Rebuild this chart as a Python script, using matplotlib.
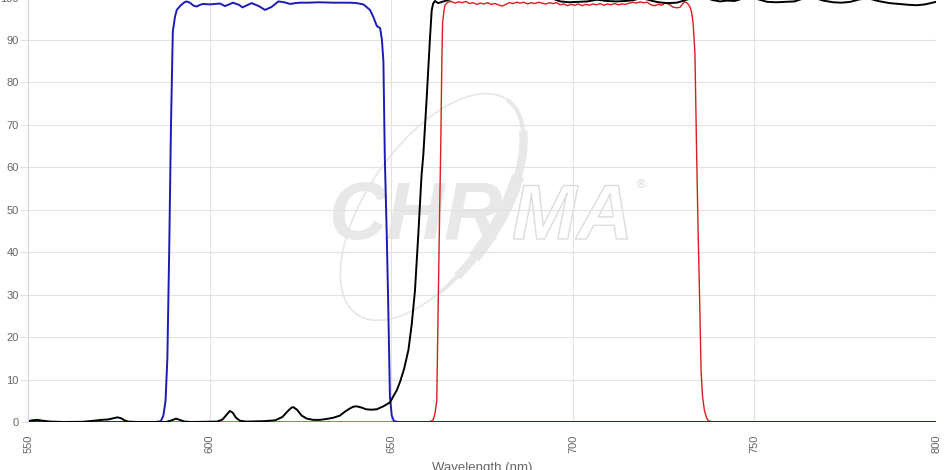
import numpy as np
import matplotlib
matplotlib.use("Agg")
import matplotlib.pyplot as plt
from matplotlib.patches import Ellipse, Arc
from matplotlib.transforms import IdentityTransform
import matplotlib.patheffects as pe

# transmission curves (wavelength nm, %T)
wl_blue = [550, 560, 570, 580, 585, 586.5, 587.2, 587.8, 588.3, 588.8, 589.3, 589.8,
           590.4, 590.9, 592.0, 593.0, 593.6, 594.5, 595.5, 596.4, 597.3, 598.1, 600,
           602.8, 604.2, 606.4, 608.0, 609.0, 610.5, 611.5, 613.5, 615.2, 617.0, 618.9,
           620.5, 622.1, 623.5, 624.8, 627, 630, 634, 638.6, 640.4, 642.3, 644.1, 645.0,
           646.0, 646.9, 647.4, 647.8, 648.2, 648.7, 649.1, 649.6, 650.1, 650.7, 652,
           700, 800]
T_blue = [0, 0, 0, 0, 0, 0.2, 1.5, 5, 15, 40, 70, 92,
          95.5, 97.1, 98.2, 98.9, 99.1, 98.8, 98.1, 97.9, 98.3, 98.5, 98.4,
          98.6, 98.0, 98.8, 98.3, 97.7, 98.3, 98.7, 98.0, 97.1, 97.8, 99.1,
          98.9, 98.5, 98.7, 98.8, 98.8, 98.9, 98.8, 98.8, 98.7, 98.4, 97.1, 95.5,
          93.3, 92.8, 90, 85, 62, 45, 29, 6, 1.5, 0.2, 0,
          0, 0]

wl_red = [550, 600, 650, 660, 661, 661.5, 662, 662.5, 662.9, 663.3, 663.6, 663.9, 664.1,
          664.5, 664.8, 665.5, 666.5, 667.5, 668.5, 669.5, 670.5, 671.5, 672.5, 673.5,
          674.5, 675.5, 676.5, 677.5, 678.5, 679.5, 680.5, 681.5, 682.5, 683.5, 684.5,
          685.5, 686.5, 687.5, 688.5, 689.5, 690.5, 691.5, 692.5, 693.5, 694.5, 695.5,
          696.5, 697.5, 698.5, 699.5, 700.5, 701.5, 702.5, 703.5, 704.5, 705.5, 706.5,
          707.5, 708.5, 709.5, 710.5, 711.5, 712.5, 713.5, 714.5, 715.5, 716.5, 717.5,
          718.5, 719.5, 720.5, 721.5, 722.5, 723.5, 724.5, 725.5, 726.5, 727.5, 728.5,
          729.5, 730.3, 730.8, 731.5, 732.2, 732.7, 733.1, 733.6, 734.1, 734.5, 734.9,
          735.3, 735.7, 736.2, 736.8, 737.3, 738.5, 800]
T_red = [0, 0, 0, 0, 0.2, 0.5, 2, 5, 28, 50, 65, 85, 94,
         97, 98.3, 98.9, 99.1, 98.7, 99.0, 98.8, 99.1, 98.6, 98.8, 98.4,
         98.7, 98.5, 98.8, 98.4, 98.6, 98.3, 98.0, 98.4, 98.8, 98.6, 98.9,
         98.7, 98.9, 98.5, 98.8, 98.6, 98.9, 98.7, 98.5, 98.8, 98.6, 98.8,
         98.3, 98.5, 98.1, 98.4, 98.2, 98.5, 98.1, 98.4, 98.2, 98.5, 98.3,
         98.6, 98.2, 98.5, 98.3, 98.6, 98.3, 98.5, 98.4, 98.7, 98.9, 98.7,
         99.0, 98.8, 98.9, 98.3, 98.1, 98.4, 98.2, 98.8, 98.4, 97.8, 97.6,
         97.7, 98.6, 99.0, 98.7, 97.9, 96.5, 94, 87, 62, 44, 29,
         12, 6, 2.8, 1.0, 0.3, 0, 0]

wl_black = [550, 551, 552.5, 554, 556, 560, 565, 568, 570, 572, 573.5, 574.5, 575.5, 576.5,
            577.5, 580, 588, 589.5, 590.7, 591.7, 593, 595, 602, 603.5, 604.7, 605.5,
            606.3, 607.2, 608.3, 610, 615, 618, 620, 621.5, 622.5, 623, 624, 625.3, 626.7,
            628.5, 630.3, 632, 634, 635.8, 637.3, 638.6, 639.5, 640.4, 641.8, 643, 644.5,
            646, 647.8, 649, 649.6, 650.5, 651.5, 652.4, 653.5, 654.7, 655.6, 656.5, 657.4,
            658.3, 658.8, 659.7, 660.2, 660.6, 661.1, 661.5, 662, 662.9, 664, 665.2, 667,
            670, 673, 676, 679, 682, 685, 688, 691, 694, 696.5, 699, 701.5, 704, 706.5,
            709.4, 712, 714.5, 716.6, 719, 721.5, 723.5, 726, 728.6, 731, 733.5, 736,
            738.6, 740.5, 742.5, 744.5, 746.5, 749, 751, 753.5, 756, 758.5, 761, 763.5,
            766, 768.9, 771.7, 774, 776.4, 779, 781.5, 784, 787.2, 790, 792.5, 794.7, 797,
            798.5, 800]
T_black = [0.2, 0.4, 0.5, 0.3, 0.1, 0, 0.05, 0.3, 0.5, 0.6, 0.9, 1.1, 0.9, 0.4,
           0.1, 0, 0, 0.4, 0.8, 0.5, 0.1, 0, 0.1, 0.6, 1.8, 2.6,
           2.2, 1.0, 0.3, 0.1, 0.2, 0.4, 1.2, 2.6, 3.4, 3.5, 2.9, 1.5, 0.8,
           0.5, 0.5, 0.7, 1.0, 1.5, 2.5, 3.2, 3.6, 3.7, 3.4, 3.0, 2.9,
           3.0, 3.7, 4.3, 4.6, 6.0, 7.5, 9.5, 12.5, 17, 23, 31, 44,
           58, 63, 76, 84, 90, 97.0, 98.6, 99.2, 98.7, 99.0, 99.3, 99.8,
           100.3, 100.4, 100.2, 100.4, 100.3, 100.4, 100.2, 100.3, 99.9, 99.1, 98.9, 99.0, 99.1, 99.5,
           99.2, 99.1, 99.2, 99.4, 99.9, 99.3, 98.9, 98.7, 98.8, 99.4, 100.2, 100.1,
           99.4, 99.1, 99.3, 99.2, 99.7, 100.2, 99.6, 99.0, 98.9, 99.0, 99.1, 99.8,
           100.1, 99.3, 98.9, 98.8, 99.0, 99.6, 99.8, 99.2, 98.7, 98.5, 98.3, 98.2, 98.4,
           98.7, 99.0]

x_ticks = [550, 600, 650, 700, 750, 800]
y_ticks = list(range(0, 101, 10))

fig = plt.figure(figsize=(9.51, 4.70), dpi=100)
ax = fig.add_axes([28.3/951, 48/470, (936-28.3)/951, 424.4/470])

# watermark (display pixel coords, y up)
wm = "#e8e8e8"
ax.add_patch(Ellipse((432, 263), 262, 128, angle=55, fill=False, ec=wm, lw=1.3,
                     transform=IdentityTransform(), zorder=0.1))
for lw, t1, t2 in [(3, -140, 0), (6, -125, -15), (9, -105, -35)]:
    ax.add_patch(Arc((432, 263), 262, 128, angle=55, theta1=t1, theta2=t2, ec=wm, lw=lw,
                     transform=IdentityTransform(), zorder=0.1))
wm_font = ["Liberation Sans Narrow", "Liberation Sans", "DejaVu Sans"]
ax.text(328, 231, "CHR", transform=IdentityTransform(), fontsize=58, family=wm_font,
        weight="bold", style="italic", color=wm, va="baseline", ha="left", zorder=0.1)
ax.text(512, 231, "MA", transform=IdentityTransform(), fontsize=56, family=wm_font,
        weight="bold", style="italic", color="none", va="baseline", ha="left", zorder=0.1,
        path_effects=[pe.withStroke(linewidth=1, foreground="#dcdcdc")])
ax.text(640, 285, "®", transform=IdentityTransform(), fontsize=9, color="#dcdcdc",
        va="center", ha="center", zorder=0.1)

ax.plot(wl_red, T_red, color="#d81e1e", lw=1.0, zorder=2)
ax.plot(wl_blue, T_blue, color="#1c1cb4", lw=1.4, zorder=2.1)
ax.plot(wl_black, T_black, color="black", lw=1.4, zorder=2.2)

ax.set_xlim(550, 800)
ax.set_ylim(0, 100)
ax.set_xticks(x_ticks)
ax.set_yticks(y_ticks)
ax.set_xticklabels([str(v) for v in x_ticks], rotation=90, family="Liberation Sans",
                   fontsize=8, color="#666666")
ax.set_yticklabels([str(v) for v in y_ticks], family="Liberation Sans",
                   fontsize=8, color="#666666")
ax.tick_params(axis="y", length=6, width=0.8, color="#e2e2e2", pad=1)
ax.tick_params(axis="x", length=0, pad=9)
ax.set_axisbelow(True)
ax.grid(True, color="#e2e2e2", lw=0.8)
for s in ["top", "right", "bottom"]:
    ax.spines[s].set_visible(False)
ax.spines["left"].set_color("#d6d6d6")
ax.spines["left"].set_linewidth(0.8)

fig.text((28.3 + 936) / 2 / 951, 8.5 / 470, "Wavelength (nm)", ha="center", va="top",
         family="Liberation Sans", fontsize=9.5, color="#666666")

fig.savefig("out.png", dpi=100)
